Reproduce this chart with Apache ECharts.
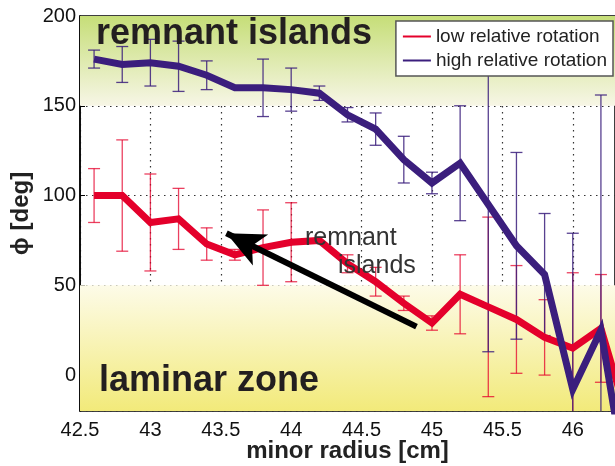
<!DOCTYPE html>
<html>
<head>
<meta charset="utf-8">
<script src="https://cdn.jsdelivr.net/npm/echarts@6/dist/echarts.min.js"></script>
<style>
  html, body { margin: 0; padding: 0; background: #fff; }
  #chart { width: 615px; height: 466px; }
</style>
</head>
<body>
<div id="chart"></div>
<script>
// minor radius positions [cm]
const radius = [42.6, 42.8, 43.0, 43.2, 43.4, 43.6, 43.8, 44.0, 44.2, 44.4,
                44.6, 44.8, 45.0, 45.2, 45.4, 45.6, 45.8, 46.0, 46.2, 46.4];

// phase [deg], low relative rotation
const lowPhi = [100, 100, 85, 87, 73, 67, 71, 74, 75, 62,
                52, 40, 29, 45, 38, 31, 21, 15, 26, -27];
const lowErr = [15, 31, 27, 17, 9, 3, 21, 22, 0, 5,
                8, 4, 4, 22, 50, 30, 21, 42, 30, 0];

// phase [deg], high relative rotation
const highPhi = [176, 173, 174, 172, 167, 160, 160, 159, 157, 145,
                 137, 120, 107, 118, 95, 72, 56, -8, 25, -70];
const highErr = [5, 10, 13, 14, 8, 0, 16, 12, 4, 4,
                 9, 13, 6, 32, 82, 52, 34, 87, 131, 0];

// shaded zones [from, to] in deg
const zoneTop = [150, 200];
const zoneBottom = [-20, 50];

// arrow from tail to tip, [radius, phi]
const arrowPts = [[44.89, 27], [43.54, 79]];

const RED = '#e4002b';
const BLUE = '#3b1e7d';

function errData(x, y, e) {
    const out = [];
    x.forEach(function (v, i) {
        if (e[i] > 0) out.push([v, y[i] - e[i], y[i] + e[i]]);
    });
    return out;
}

function errRender(color, opacity) {
    return function (params, api) {
        const x = api.value(0);
        const lo = api.coord([x, api.value(1)]);
        const hi = api.coord([x, api.value(2)]);
        const w = 6;
        const style = { stroke: color, lineWidth: 1.3, opacity: opacity };
        return {
            type: 'group',
            children: [
                { type: 'line', shape: { x1: lo[0], y1: lo[1], x2: hi[0], y2: hi[1] }, style: style },
                { type: 'line', shape: { x1: lo[0] - w, y1: lo[1], x2: lo[0] + w, y2: lo[1] }, style: style },
                { type: 'line', shape: { x1: hi[0] - w, y1: hi[1], x2: hi[0] + w, y2: hi[1] }, style: style }
            ]
        };
    };
}

const chart = echarts.init(document.getElementById('chart'));

const option = {
    animation: false,
    textStyle: { fontFamily: 'Liberation Sans' },
    grid: {
        left: 80, right: 0, top: 16, bottom: 55,
        containLabel: false, outerBoundsMode: 'none',
        show: true, borderColor: '#000', borderWidth: 1.5,
        backgroundColor: 'transparent'
    },
    legend: {
        top: 21, right: 2,
        orient: 'vertical',
        backgroundColor: '#fff',
        borderColor: '#555', borderWidth: 1.5,
        padding: [6, 6, 6, 7],
        itemGap: 5,
        itemWidth: 28, itemHeight: 2,
        icon: 'rect',
        textStyle: { fontSize: 19, color: '#222' },
        data: ['low relative rotation', 'high relative rotation']
    },
    xAxis: {
        type: 'value',
        min: 42.5, max: 46.3, interval: 0.5,
        name: 'minor radius [cm]',
        nameLocation: 'middle', nameGap: 28, nameMoveOverlap: false,
        nameTextStyle: { fontSize: 24, fontWeight: 'bold', color: '#222' },
        axisLine: { lineStyle: { color: '#000', width: 1.5 } },
        axisTick: { inside: true, length: 5, lineStyle: { color: '#000' } },
        axisLabel: { fontSize: 20, color: '#111', margin: 9, showMaxLabel: false },
        splitLine: { lineStyle: { color: '#333', type: [1.5, 4.5], width: 1.2 } }
    },
    yAxis: {
        type: 'value',
        min: -20, max: 200, splitNumber: 5,
        name: 'ϕ [deg]',
        nameLocation: 'middle', nameGap: 47, nameMoveOverlap: false,
        nameTextStyle: { fontSize: 24, fontWeight: 'bold', color: '#222' },
        axisLine: { show: true, lineStyle: { color: '#000', width: 1.5 } },
        axisTick: { show: true, inside: true, length: 5, lineStyle: { color: '#000' } },
        axisLabel: { fontSize: 20, color: '#111', margin: 4, showMinLabel: false },
        splitLine: { lineStyle: { color: '#333', type: [1.5, 4.5], width: 1.2 } }
    },
    graphic: [
        { type: 'text', left: 96, top: 16, z: 10,
          style: { text: 'remnant islands', font: 'bold 36px "Liberation Sans"', fill: '#231f20' } },
        { type: 'text', left: 99, top: 363, z: 10,
          style: { text: 'laminar zone', font: 'bold 36px "Liberation Sans"', fill: '#231f20' } },
        { type: 'text', left: 305, top: 226, z: 10,
          style: { text: 'remnant', font: '25px "Liberation Sans"', fill: '#333' } },
        { type: 'text', left: 338, top: 254, z: 10,
          style: { text: 'islands', font: '25px "Liberation Sans"', fill: '#333' } }
    ],
    series: [
        {
            type: 'line', name: 'zones', data: [], z: -1, silent: true,
            markArea: {
                silent: true,
                data: [
                    [{ yAxis: zoneTop[0], itemStyle: { color: {
                        type: 'linear', x: 0, y: 1, x2: 0, y2: 0,
                        colorStops: [{ offset: 0, color: '#f7f6e6' }, { offset: 1, color: '#c6de78' }]
                    } } }, { yAxis: zoneTop[1] }],
                    [{ yAxis: zoneBottom[0], itemStyle: { color: {
                        type: 'linear', x: 0, y: 1, x2: 0, y2: 0,
                        colorStops: [{ offset: 0, color: '#f2ea7a' }, { offset: 1, color: '#fdfbe8' }]
                    } } }, { yAxis: zoneBottom[1] }]
                ]
            }
        },
        {
            type: 'custom', name: 'low err', z: 2, clip: true,
            renderItem: errRender(RED, 0.75),
            data: errData(radius, lowPhi, lowErr)
        },
        {
            type: 'custom', name: 'high err', z: 2, clip: true,
            renderItem: errRender(BLUE, 0.85),
            data: errData(radius, highPhi, highErr)
        },
        {
            type: 'line', name: 'low relative rotation', z: 3,
            data: radius.map(function (x, i) { return [x, lowPhi[i]]; }),
            showSymbol: false, symbol: 'none', clip: true,
            itemStyle: { color: RED },
            lineStyle: { color: RED, width: 7, join: 'miter' }
        },
        {
            type: 'line', name: 'high relative rotation', z: 4,
            data: radius.map(function (x, i) { return [x, highPhi[i]]; }),
            showSymbol: false, symbol: 'none', clip: true,
            itemStyle: { color: BLUE },
            lineStyle: { color: BLUE, width: 7, join: 'miter' }
        },
        {
            type: 'line', name: 'arrow', data: [], z: 5, silent: true,
            markLine: {
                silent: true,
                symbol: ['none', 'arrow'],
                symbolSize: [26, 38],
                label: { show: false },
                lineStyle: { color: '#000', width: 6, type: 'solid' },
                data: [[
                    { coord: arrowPts[0] },
                    { coord: arrowPts[1] }
                ]]
            }
        }
    ]
};

chart.setOption(option);
</script>
</body>
</html>
